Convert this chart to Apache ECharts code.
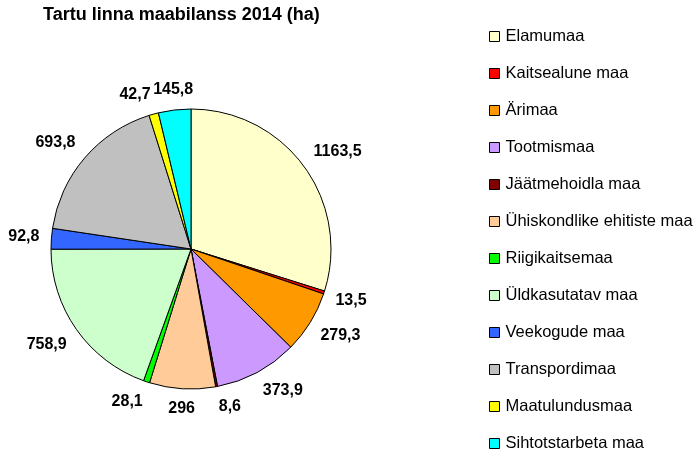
<!DOCTYPE html>
<html>
<head>
<meta charset="utf-8">
<script src="https://cdn.jsdelivr.net/npm/echarts@6/dist/echarts.min.js"></script>
<style>html,body{margin:0;padding:0;background:#fff}#c{width:693px;height:450px}</style>
</head>
<body>
<div id="c"></div>
<script>
const titleText = 'Tartu linna maabilanss 2014 (ha)';
const categories = ['Elamumaa','Kaitsealune maa','Ärimaa','Tootmismaa','Jäätmehoidla maa','Ühiskondlike ehitiste maa','Riigikaitsemaa','Üldkasutatav maa','Veekogude maa','Transpordimaa','Maatulundusmaa','Sihtotstarbeta maa'];
const values = [1163.5, 13.5, 279.3, 373.9, 8.6, 296, 28.1, 758.9, 92.8, 693.8, 42.7, 145.8];
const colors = ['#FFFFCC','#FF0000','#FF9900','#CC99FF','#800000','#FFCC99','#00FF00','#CCFFCC','#3366FF','#C0C0C0','#FFFF00','#00FFFF'];

const fmt = v => String(v).replace('.', ',');
const pieData = categories.map((n, i) => ({ name: n, value: values[i], itemStyle: { color: colors[i] } }));
const labelData = categories.map((n, i) => ({ name: n, value: values[i] }));
const FONT = 'Arial, "Liberation Sans", sans-serif';
const CX = 191, CY = 249, R = 140, RL = 149;

// Excel-like outside-end placement: the label box sits on the side of its anchor facing away from the pie
function excelLabel(params) {
  const r = params.labelRect;
  const px = r.x + r.width / 2, py = r.y + r.height / 2;
  const len = Math.hypot(px - CX, py - CY) || 1;
  const dx = (px - CX) / len, dy = (py - CY) / len;
  const sx = Math.abs(dx) < 0.15 ? 0 : Math.sign(dx);
  const sy = Math.max(-1, Math.min(1, dy / 0.6));
  return {
    x: px + sx * r.width / 2,
    y: py + sy * r.height / 2,
    align: 'center', verticalAlign: 'middle',
    hideOverlap: false
  };
}

const chart = echarts.init(document.getElementById('c'), null, { renderer: 'canvas' });
chart.setOption({
  animation: false,
  backgroundColor: '#ffffff',
  title: {
    text: titleText, left: 43, top: 6, padding: 0,
    textStyle: { fontFamily: FONT, fontSize: 18, fontWeight: 'bold', color: '#000' }
  },
  legend: {
    orient: 'vertical', left: 489, top: 28, padding: 0, height: 440,
    data: categories, selectedMode: false,
    icon: 'rect', itemWidth: 10, itemHeight: 10, itemGap: 20,
    itemStyle: { borderColor: '#000', borderWidth: 1 },
    textStyle: { fontFamily: FONT, fontSize: 16.5, color: '#000', lineHeight: 16, padding: [0,0,0,1] }
  },
  series: [
    {
      type: 'pie', center: [CX, CY], radius: R, startAngle: 90, clockwise: true,
      data: pieData,
      itemStyle: { borderColor: '#000', borderWidth: 1 },
      label: { show: false }, labelLine: { show: false },
      emphasis: { disabled: true }, silent: true
    },
    {
      type: 'pie', center: [CX, CY], radius: [RL - 1, RL + 1], startAngle: 90, clockwise: true,
      data: labelData, silent: true, legendHoverLink: false,
      itemStyle: { color: 'rgba(0,0,0,0)', borderWidth: 0 },
      label: {
        show: true, position: 'inside', formatter: p => fmt(p.value),
        fontFamily: FONT, fontSize: 16, fontWeight: 'bold', color: '#000'
      },
      labelLayout: excelLabel,
      labelLine: { show: false },
      emphasis: { disabled: true }
    }
  ]
});
</script>
</body>
</html>
